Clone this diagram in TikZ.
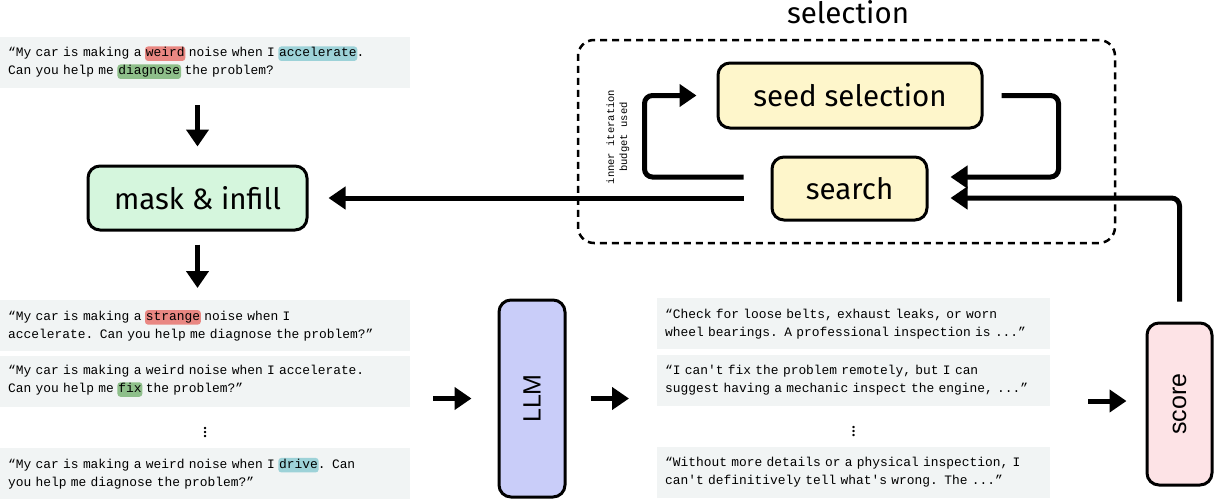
\documentclass[tikz,border=0pt]{standalone}
\usepackage{fontspec}
\setmainfont{Fira Sans}
\newfontfamily\codefont{Liberation Mono}
\newfontfamily\boxfont{Liberation Sans}
\newfontfamily\notefont{Liberation Mono}
\usepackage{xcolor}
\usepackage{graphicx}
\usepackage{tikz}
\usetikzlibrary{positioning,arrows.meta,calc}

\definecolor{bggray}{HTML}{F1F4F4}
\definecolor{hlred}{HTML}{E98782}
\definecolor{hlblue}{HTML}{9DD2D8}
\definecolor{hlgreen}{HTML}{8EBF8A}
\definecolor{maskgreen}{HTML}{D5F6DD}
\definecolor{seedyellow}{HTML}{FEF6CB}
\definecolor{llmblue}{HTML}{C9CDF9}
\definecolor{scorepink}{HTML}{FDE3E6}

% fixed pitch text, spaces as wide as letters
\newcommand{\codesetup}{\codefont\fontsize{12.9}{18}\selectfont\spaceskip=0.6em\relax}
\newcommand{\notesetup}{\notefont\fontsize{10.5}{13}\selectfont\spaceskip=0.6em\relax}
% highlighted word inside a prompt
\newcommand{\hlw}[2]{\hspace{-0.8pt}\tikz[baseline=(w.base)]\node[fill=#1,rounded corners=3pt,minimum width=0pt,minimum height=0pt,text width=,align=center,anchor=base,inner xsep=0.8pt,inner ysep=1pt,text height=9.5pt,text depth=3pt](w){#2};\hspace{-0.8pt}}

\begin{document}
\begin{tikzpicture}[x=1pt,y=-1pt,
            >={Triangle[length=17pt,width=22pt]},
            flow/.style={->,line width=5pt},
            stepbox/.style={draw,line width=3pt,rounded corners=12pt,font=\fontsize{29.5}{33}\selectfont},
            tbox/.style={fill=bggray,text width=394pt,inner xsep=8pt,minimum height=51pt,
            align=left,anchor=north west,font=\codesetup},
            dotsnode/.style={inner sep=0pt,font=\fontsize{17}{17}\selectfont}]

            \useasboundingbox (0,0) rectangle (1221,501);

            % input prompt and infilling
            \node[tbox] (prompt) at (0,37) {“My car is making a \hlw{hlred}{weird} noise when I \hlw{hlblue}{accelerate}.\\Can you help me \hlw{hlgreen}{diagnose} the problem?};
            \node[stepbox, fill=maskgreen, minimum width=219pt, minimum height=64pt] (mask) at (197.5,198) {mask \& infill};

            % prompt variants
            \node[tbox] (var1) at (0,300) {“My car is making a \hlw{hlred}{strange} noise when I\\accelerate. Can you help me diagnose the problem?”};
            \node[tbox, below=4pt of var1] (var2) {“My car is making a weird noise when I accelerate.\\Can you help me \hlw{hlgreen}{fix} the problem?”};
            \node[dotsnode, below=14pt of var2] (vdl) {$\vdots$};
            \node[tbox, below=41pt of var2] (var4) {“My car is making a weird noise when I \hlw{hlblue}{drive}. Can\\you help me diagnose the problem?”};

            % model
            \node[stepbox, fill=llmblue, minimum width=66pt, minimum height=197pt, font=\boxfont\fontsize{25}{25}\selectfont] (llm) at (532,398.5) {\rotatebox{90}{LLM}};

            % responses
            \node[tbox, text width=377pt] (resp1) at (657,298) {“Check for loose belts, exhaust leaks, or worn\\wheel bearings. A professional inspection is ...”};
            \node[tbox, text width=377pt, below=5pt of resp1] (resp2) {“I can't fix the problem remotely, but I can\\suggest having a mechanic inspect the engine, ...”};
            \node[dotsnode, below=14pt of resp2] (vdr) {$\vdots$};
            \node[tbox, text width=377pt, below=41pt of resp2] (resp4) {“Without more details or a physical inspection, I\\can't definitively tell what's wrong. The ...”};

            \node[stepbox, fill=scorepink, minimum width=65pt, minimum height=162pt, font=\boxfont\fontsize{25}{25}\selectfont] (score) at (1179.5,404) {\rotatebox{90}{score}};

            % selection
            \node[draw, line width=2.5pt, dash pattern=on 7pt off 5pt, rounded corners=16pt, minimum width=537pt, minimum height=203pt] (selbox) at (846.5,141.5) {};
            \node[font=\fontsize{29.5}{33}\selectfont, anchor=base] (seltitle) at (848,23) {selection};
            \node[stepbox, fill=seedyellow, minimum width=264pt, minimum height=65pt] (seed) at (850,95.5) {seed selection};
            \node[stepbox, fill=seedyellow, minimum width=155pt, minimum height=63pt] (search) at (849.5,188.5) {search};
            \node[rotate=90, align=center, font=\notesetup] (note) at (618,137) {inner iteration\\budget used};

            % connectors
            \draw[flow, shorten <=17pt, shorten >=18pt] (mask |- prompt.south) -- (mask.north);
            \draw[flow, shorten <=13pt, shorten >=12pt] (mask.south) -- (mask |- var1.north);
            \draw[flow, shorten <=23pt, shorten >=26pt] (var2.east |- llm.west) -- (llm.west);
            \draw[flow, shorten <=24pt, shorten >=28pt] (llm.east) -- (resp2.west |- llm.east);
            \draw[flow, shorten <=38pt, shorten >=19pt] ([yshift=3pt]resp2.east |- score.west) -- ([yshift=3pt]score.west);
            \draw[flow, rounded corners=8pt] ([xshift=-27pt,yshift=11.5pt]search.west) -| ([xshift=-72pt]seed.west) -- ([xshift=-20pt]seed.west);
            \draw[flow, rounded corners=8pt] ([xshift=18pt]seed.east) -- ([xshift=75pt]seed.east) |- ([xshift=22pt,yshift=11.5pt]search.east);
            \draw[flow, rounded corners=8pt] ([yshift=20pt]score.north) |- ([xshift=22pt,yshift=-9.5pt]search.east);
            \draw[flow, shorten >=20pt] ([xshift=-27pt,yshift=-9.5pt]search.west) -- ([yshift=-9.5pt]search.west -| mask.east);
\end{tikzpicture}
\end{document}
